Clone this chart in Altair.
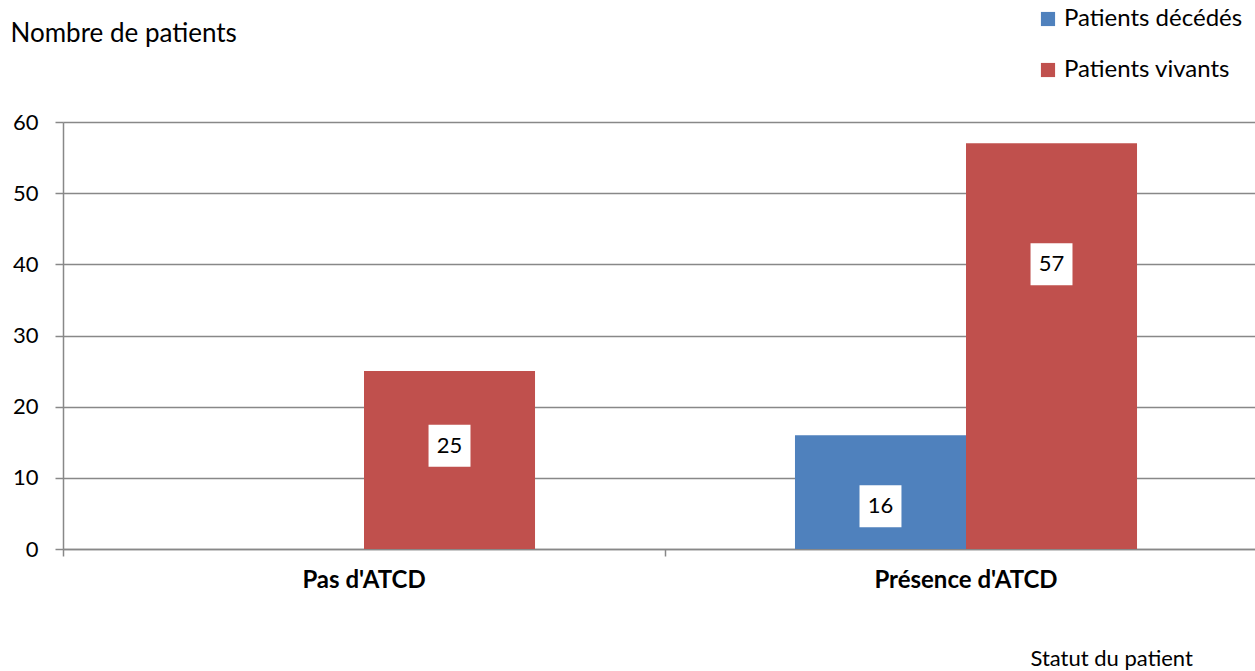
import altair as alt
import pandas as pd

categories = ["Pas d'ATCD", "Présence d'ATCD"]
series = ["Patients décédés", "Patients vivants"]
deces = [0, 16]
vivants = [25, 57]
# vertical anchor of the white value boxes, in data units
label_at_deces = [None, 6.0]
label_at_vivants = [14.5, 40.0]

rows = []
for i, c in enumerate(categories):
    rows.append({"cat": c, "serie": series[0], "val": deces[i], "lab": label_at_deces[i]})
    rows.append({"cat": c, "serie": series[1], "val": vivants[i], "lab": label_at_vivants[i]})
df = pd.DataFrame(rows)
lab_df = df[df["lab"].notna() & (df["val"] > 0)].copy()
lab_df["txt"] = lab_df["val"].astype(int).astype(str)

FONT = "Lato"
GRID = "#888888"

xscale = alt.Scale(domain=categories, range=[0, 1204], paddingInner=0, paddingOuter=0)
offscale = alt.Scale(domain=series, paddingInner=0, paddingOuter=0.76)
yscale = alt.Scale(domain=[0, 60])
color_scale = alt.Scale(domain=series, range=["#4F81BD", "#C0504D"])

x_enc = alt.X("cat:N", scale=xscale, sort=categories,
              axis=alt.Axis(title="Statut du patient", labelAngle=0, bandPosition=0,
                            tickSize=7, tickColor=GRID, tickWidth=1.5,
                            domainColor=GRID, domainWidth=1.5,
                            labelFont=FONT, labelFontSize=24, labelFontWeight="bold",
                            labelColor="black", labelPadding=12, labelLimit=0,
                            titleFont=FONT, titleFontSize=22, titleFontWeight="normal",
                            titleColor="black", titleAnchor="start", titleAlign="left",
                            titleBaseline="alphabetic", titleX=967, titleY=116))
y_enc = alt.Y("val:Q", scale=yscale,
              axis=alt.Axis(title="Nombre de patients", values=[0, 10, 20, 30, 40, 50, 60],
                            grid=True, gridColor=GRID, gridWidth=1.6,
                            tickSize=8, tickColor=GRID, tickWidth=1.5,
                            domainColor=GRID, domainWidth=1.5,
                            labelFont=FONT, labelFontSize=22, labelColor="black",
                            labelPadding=17,
                            titleFont=FONT, titleFontSize=26, titleFontWeight="normal",
                            titleColor="black", titleAngle=0, titleAlign="left",
                            titleBaseline="alphabetic", titleX=-53, titleY=-81))

bars = alt.Chart(df).mark_bar(stroke=None).encode(
    x=x_enc,
    xOffset=alt.XOffset("serie:N", scale=offscale, sort=series),
    y=y_enc,
    color=alt.Color("serie:N", scale=color_scale, sort=series,
                    legend=alt.Legend(title=None, orient="none", legendX=973, legendY=-115,
                                      symbolType="square", symbolSize=200,
                                      symbolStrokeWidth=0, labelFont=FONT,
                                      labelFontSize=24, labelColor="black", labelLimit=0,
                                      rowPadding=27, labelOffset=4)),
)

boxes = alt.Chart(lab_df).mark_point(shape="square", filled=True, color="white",
                                     size=1760, opacity=1).encode(
    x=alt.X("cat:N", scale=xscale, sort=categories),
    xOffset=alt.XOffset("serie:N", scale=offscale, sort=series),
    y=alt.Y("lab:Q", scale=yscale),
)

texts = alt.Chart(lab_df).mark_text(font=FONT, fontSize=22, color="black",
                                    baseline="middle", align="center").encode(
    x=alt.X("cat:N", scale=xscale, sort=categories),
    xOffset=alt.XOffset("serie:N", scale=offscale, sort=series),
    y=alt.Y("lab:Q", scale=yscale),
    text="txt:N",
)

chart = alt.layer(bars, boxes, texts).properties(
    width=1192, height=427,
    autosize=alt.AutoSizeParams(type="none"),
    padding={"left": 63, "top": 122, "right": 0, "bottom": 122},
    background="white",
).configure_view(stroke=None)

chart.save("out.html", embed_options={"renderer": "svg", "actions": False})
